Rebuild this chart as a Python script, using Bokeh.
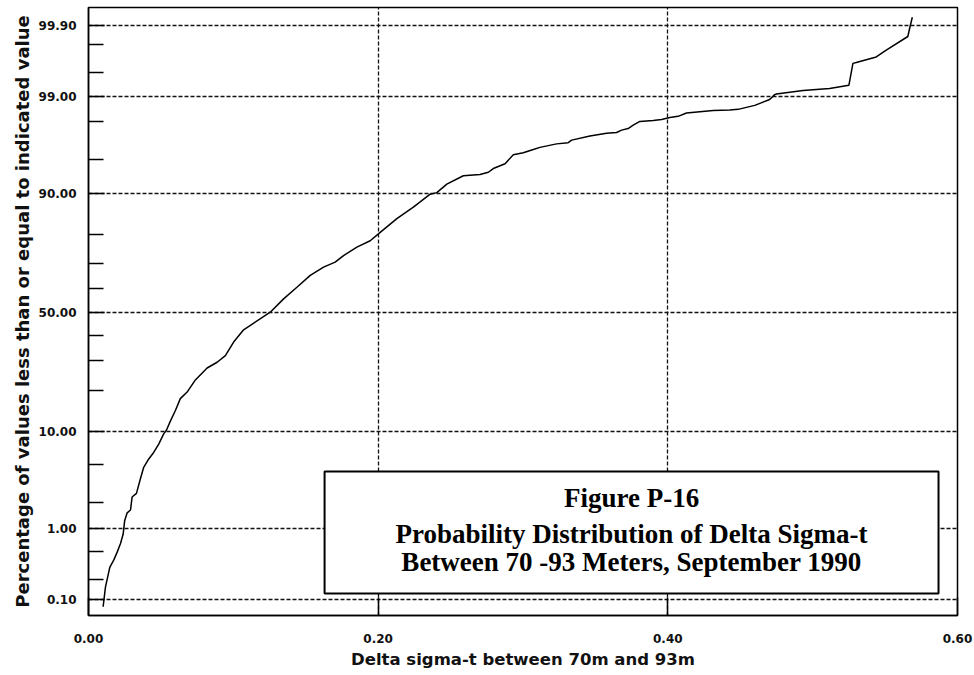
from statistics import NormalDist
from bokeh.plotting import figure
from bokeh.models import FixedTicker, BoxAnnotation, Label, Range1d
from bokeh.embed import file_html
from bokeh.resources import INLINE

# ---------------- data ----------------
delta_sigma = [
    0.0101, 0.0117, 0.0147, 0.0174, 0.0198, 0.0221, 0.0239, 0.0250, 0.0267, 0.0290,
    0.0301, 0.0331, 0.0359, 0.0381, 0.0416, 0.0450, 0.0485, 0.0519, 0.0538, 0.0566,
    0.0600, 0.0634, 0.0681, 0.0738, 0.0819, 0.0888, 0.0945, 0.1002, 0.1071, 0.1255,
    0.1347, 0.1439, 0.1531, 0.1623, 0.1703, 0.1761, 0.1853, 0.1945, 0.2014, 0.2129,
    0.2243, 0.2301, 0.2359, 0.2405, 0.2474, 0.2588, 0.2703, 0.2761, 0.2795, 0.2876,
    0.2933, 0.3002, 0.3071, 0.3117, 0.3232, 0.3312, 0.3336, 0.3462, 0.3577, 0.3646,
    0.3681, 0.3726, 0.3761, 0.3807, 0.3899, 0.3957, 0.4014, 0.4071, 0.4129, 0.4221,
    0.4313, 0.4428, 0.4485, 0.4600, 0.4703, 0.4738, 0.4750, 0.4933, 0.5117, 0.5250,
    0.5278, 0.5301, 0.5439, 0.5508, 0.5657, 0.5669, 0.5688,
]
percent_le = [
    0.076, 0.154, 0.30, 0.38, 0.49, 0.64, 0.84, 1.25, 1.54, 1.66,
    2.33, 2.56, 3.67, 4.75, 5.71, 6.55, 7.78, 9.51, 10.2, 12.1,
    14.5, 17.6, 19.5, 23.3, 27.4, 29.5, 32.0, 37.4, 42.5, 50.0,
    55.7, 60.6, 65.4, 68.6, 70.5, 72.9, 75.8, 77.9, 80.5, 84.3,
    87.1, 88.5, 89.8, 90.1, 91.6, 92.9, 93.1, 93.4, 93.9, 94.5,
    95.5, 95.7, 96.0, 96.2, 96.5, 96.6, 96.8, 97.1, 97.3, 97.35,
    97.5, 97.6, 97.8, 98.0, 98.05, 98.1, 98.2, 98.25, 98.4, 98.45,
    98.5, 98.52, 98.55, 98.7, 98.9, 99.04, 99.06, 99.15, 99.20, 99.27,
    99.63, 99.64, 99.70, 99.76, 99.85, 99.886, 99.925,
]

y_major_pct = [0.1, 1, 10, 50, 90, 99, 99.9]
y_major_labels = ["0.10", "1.00", "10.00", "50.00", "90.00", "99.00", "99.90"]
y_minor_pct = [0.2, 0.5, 2, 5, 20, 30, 40, 60, 70, 80, 95, 98, 99.5, 99.8]
x_ticks = [0.0, 0.2, 0.4, 0.6]
x_tick_labels = ["0.00", "0.20", "0.40", "0.60"]

title_lines = [
    "Figure P-16",
    "Probability Distribution of Delta Sigma-t",
    "Between 70 -93 Meters, September 1990",
]

# ---------------- probability (normal) scale ----------------
nd = NormalDist()
def prob_to_z(p):
    return nd.inv_cdf(p / 100.0)

curve_z = [prob_to_z(p) for p in percent_le]
major_z = [prob_to_z(p) for p in y_major_pct]
minor_z = [prob_to_z(p) for p in y_minor_pct]

p = figure(width=974, height=675, output_backend="svg", toolbar_location=None,
           x_range=Range1d(0, 0.6), y_range=Range1d(-3.265, 3.280),
           min_border_left=88, min_border_right=17, min_border_top=7,
           min_border_bottom=60)
p.background_fill_color = "white"
p.border_fill_color = "white"
p.outline_line_color = "black"
p.outline_line_width = 1.5

p.line(delta_sigma, curve_z, line_color="black", line_width=1.5)

# axes
lab_font = "DejaVu Sans"
p.xaxis.ticker = FixedTicker(ticks=x_ticks)
p.xaxis.major_label_overrides = dict(zip(x_ticks, x_tick_labels))
p.yaxis.ticker = FixedTicker(ticks=major_z, minor_ticks=minor_z)
p.yaxis.major_label_overrides = dict(zip(major_z, y_major_labels))

for ax in (p.xaxis[0], p.yaxis[0]):
    ax.axis_line_color = "black"
    ax.axis_line_width = 1.5
    ax.major_tick_out = 0
    ax.major_tick_line_color = "black"
    ax.major_tick_line_width = 1.5
    ax.major_label_text_font = lab_font
    ax.major_label_text_font_style = "bold"
    ax.major_label_text_font_size = "12px"
    ax.major_label_text_color = "#111111"
    ax.axis_label_text_font = lab_font
    ax.axis_label_text_font_style = "bold"
    ax.axis_label_text_color = "#111111"

p.xaxis.major_tick_in = 18
p.xaxis.minor_tick_line_color = None
p.xaxis.major_label_standoff = 18
p.xaxis.axis_label = "Delta sigma-t between 70m and 93m"
p.xaxis.axis_label_text_font_size = "16.5px"
p.xaxis.axis_label_standoff = 4

p.yaxis.major_tick_in = 16
p.yaxis.minor_tick_in = 15
p.yaxis.minor_tick_out = 0
p.yaxis.minor_tick_line_color = "black"
p.yaxis.minor_tick_line_width = 1.5
p.yaxis.major_label_standoff = 12
p.yaxis.axis_label = "Percentage of values less than or equal to indicated value"
p.yaxis.axis_label_text_font_size = "18px"
p.yaxis.axis_label_standoff = 3

for g in (p.xgrid[0], p.ygrid[0]):
    g.grid_line_color = "#111111"
    g.grid_line_width = 1.3
    g.grid_line_dash = "4 2"

# caption box
box_left, box_right = 0.163, 0.5869
box_top_pct, box_bottom_pct = 4.32, 0.123
p.add_layout(BoxAnnotation(left=box_left, right=box_right,
                           top=prob_to_z(box_top_pct), bottom=prob_to_z(box_bottom_pct),
                           fill_color="white", fill_alpha=1.0,
                           line_color="black", line_alpha=1.0, line_width=2))
line_pct = [2.30, 0.85, 0.353]
for txt, lp in zip(title_lines, line_pct):
    p.add_layout(Label(x=(box_left + box_right) / 2, y=prob_to_z(lp), text=txt,
                       text_align="center", text_baseline="middle",
                       text_font="Liberation Serif", text_font_style="bold",
                       text_font_size="27px", text_color="black"))

open("out.html", "w").write(file_html(p, INLINE))
